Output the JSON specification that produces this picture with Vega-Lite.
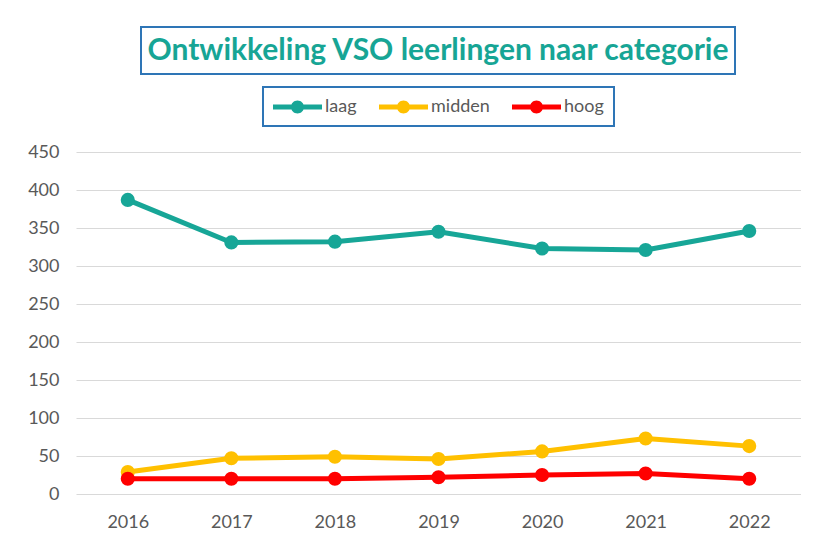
{
  "$schema": "https://vega.github.io/schema/vega-lite/v6.json",
  "background": "white",
  "padding": {"left": 27, "top": 26, "right": 0, "bottom": 0},
  "spacing": 11,
  "center": {"column": true, "row": false},
  "bounds": "full",
  "resolve": {"legend": {"color": "independent"}},
  "config": {
    "view": {"stroke": null},
    "font": "Lato",
    "axis": {"labelFont": "Lato", "labelFontSize": 18, "labelColor": "#595959", "ticks": false, "domain": false, "gridColor": "#D9D9D9", "gridWidth": 1.2, "title": null},
    "legend": {
      "layout": {"top": {"anchor": "middle"}}
    }
  },
  "vconcat": [
    {
      "width": 594,
      "height": 47,
      "view": {"stroke": "#2E75B6", "strokeWidth": 2},
      "data": {"values": [{"t": "Ontwikkeling VSO leerlingen naar categorie"}]},
      "mark": {"type": "text", "font": "Lato", "fontWeight": "bold", "fontSize": 30, "color": "#17A595"},
      "encoding": {"text": {"field": "t"}}
    },
    {
      "width": 725,
      "height": 342,
      "data": {"values": [
        {"jaar": "2016", "categorie": "laag", "aantal": 387},
        {"jaar": "2017", "categorie": "laag", "aantal": 331},
        {"jaar": "2018", "categorie": "laag", "aantal": 332},
        {"jaar": "2019", "categorie": "laag", "aantal": 345},
        {"jaar": "2020", "categorie": "laag", "aantal": 323},
        {"jaar": "2021", "categorie": "laag", "aantal": 321},
        {"jaar": "2022", "categorie": "laag", "aantal": 346},
        {"jaar": "2016", "categorie": "midden", "aantal": 29},
        {"jaar": "2017", "categorie": "midden", "aantal": 47},
        {"jaar": "2018", "categorie": "midden", "aantal": 49},
        {"jaar": "2019", "categorie": "midden", "aantal": 46},
        {"jaar": "2020", "categorie": "midden", "aantal": 56},
        {"jaar": "2021", "categorie": "midden", "aantal": 73},
        {"jaar": "2022", "categorie": "midden", "aantal": 63},
        {"jaar": "2016", "categorie": "hoog", "aantal": 20},
        {"jaar": "2017", "categorie": "hoog", "aantal": 20},
        {"jaar": "2018", "categorie": "hoog", "aantal": 20},
        {"jaar": "2019", "categorie": "hoog", "aantal": 22},
        {"jaar": "2020", "categorie": "hoog", "aantal": 25},
        {"jaar": "2021", "categorie": "hoog", "aantal": 27},
        {"jaar": "2022", "categorie": "hoog", "aantal": 20}
      ]},
      "mark": {"type": "line", "strokeWidth": 5, "strokeCap": "round", "strokeJoin": "round", "point": {"filled": true, "size": 200, "opacity": 1}},
      "encoding": {
        "x": {"field": "jaar", "type": "ordinal", "scale": {"type": "point", "padding": 0.5}, "axis": {"labelAngle": 0, "labelPadding": 19, "grid": false}},
        "y": {"field": "aantal", "type": "quantitative", "scale": {"domain": [0, 450]}, "axis": {"values": [0, 50, 100, 150, 200, 250, 300, 350, 400, 450], "labelPadding": 17}},
        "color": {
          "field": "categorie", "type": "nominal",
          "scale": {"domain": ["laag", "midden", "hoog"], "range": ["#17A697", "#FFC000", "#FF0000"]},
          "legend": {
            "title": null,
            "orient": "top",
            "direction": "horizontal",
            "offset": 26,
            "padding": 10,
            "strokeColor": "#2E75B6",
            "columnPadding": 22,
            "labelOffset": 32,
            "labelFont": "Lato",
            "labelFontSize": 18,
            "labelColor": "#595959",
            "symbolType": "M-1,-0.25L3.9,-0.25L3.9,0.25L-1,0.25Z M0.8,0A0.65,0.65 0 1,1 2.1,0A0.65,0.65 0 1,1 0.8,0Z",
            "symbolSize": 400,
            "symbolStrokeWidth": 0,
            "encode": {
              "legend": {"update": {"strokeWidth": {"value": 2}}},
              "symbols": {"update": {"fill": {"scale": "color", "field": "value"}, "stroke": {"value": "transparent"}, "opacity": {"value": 1}}}
            }
          }
        }
      }
    }
  ]
}
